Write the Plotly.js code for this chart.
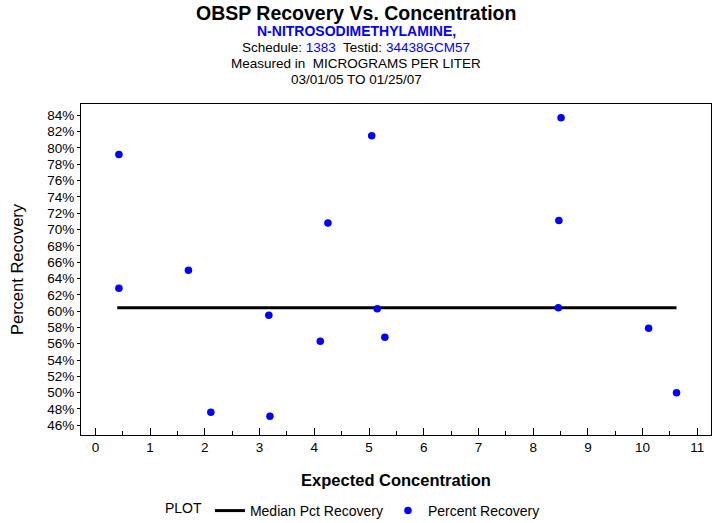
<!DOCTYPE html>
<html>
<head>
<meta charset="utf-8">
<script src="https://cdn.plot.ly/plotly-3.0.1.min.js"></script>
<style>html,body{margin:0;padding:0;background:#fff;}#chart{width:713px;height:523px;}</style>
</head>
<body>
<div id="chart"></div>
<script>
// Data
const expectedConc = [0.43, 0.43, 1.70, 2.11, 3.17, 3.19, 4.11, 4.25, 5.05, 5.15, 5.29, 8.51, 8.47, 8.46, 10.11, 10.62];
const pctRecovery  = [79.2, 62.8, 65.0, 47.6, 59.5, 47.1, 56.3, 70.8, 81.5, 60.3, 56.8, 83.7, 71.1, 60.4, 57.9, 50.0];
const medianX = [0.40, 10.62];
const medianY = [60.4, 60.4];
const yTickVals = [46,48,50,52,54,56,58,60,62,64,66,68,70,72,74,76,78,80,82,84];
const xTickVals = [0,1,2,3,4,5,6,7,8,9,10,11];

const FONT = 'Arial, "Liberation Sans", sans-serif';

const traces = [
  {
    x: medianX, y: medianY, mode: 'lines', name: 'Median Pct Recovery',
    line: {color: '#000000', width: 3}, hoverinfo: 'skip'
  },
  {
    x: expectedConc, y: pctRecovery, mode: 'markers', name: 'Percent Recovery',
    marker: {color: '#0000FF', size: 7.5, symbol: 'circle'}
  }
];

const layout = {
  width: 713, height: 523,
  margin: {l: 81, r: 2, t: 104, b: 88, pad: 0, autoexpand: false},
  paper_bgcolor: '#ffffff', plot_bgcolor: '#ffffff',
  font: {family: FONT, size: 13, color: '#000000'},
  showlegend: true,
  legend: {
    orientation: 'h', x: 0.13, y: -0.2779, xanchor: 'left', yanchor: 'bottom',
    title: {text: 'PLOT', side: 'left', font: {family: FONT, size: 14}},
    font: {family: FONT, size: 14}, itemwidth: 30, tracegroupgap: 0,
    bgcolor: 'rgba(0,0,0,0)'
  },
  xaxis: {
    range: [-0.263, 11.25], tickvals: xTickVals, ticktext: xTickVals.map(String),
    ticks: 'inside', ticklen: 7, tickwidth: 1, tickcolor: '#000',
    minor: {dtick: 0.5, tick0: 0, ticks: 'inside', ticklen: 4, tickwidth: 1, tickcolor: '#000', showgrid: false},
    showline: true, linecolor: '#000', linewidth: 1, mirror: true,
    showgrid: false, zeroline: false,
    tickfont: {family: FONT, size: 13.5},
    title: {text: '<b>Expected Concentration</b>', font: {family: FONT, size: 16.5}, standoff: 20}
  },
  yaxis: {
    range: [44.81, 85.39], tickvals: yTickVals, ticktext: yTickVals.map(v => v + '%'),
    ticks: 'outside', ticklen: 3, tickwidth: 1, tickcolor: '#000',
    showline: true, linecolor: '#000', linewidth: 1, mirror: true,
    showgrid: false, zeroline: false,
    tickfont: {family: FONT, size: 13.5},
    title: {text: 'Percent Recovery', font: {family: FONT, size: 16.5}, standoff: 19}
  },
  annotations: [
    {text: '<b>OBSP Recovery Vs. Concentration</b>', xref: 'paper', yref: 'paper', x: 0.437, y: 1.0, yshift: 91,
     xanchor: 'center', yanchor: 'middle', showarrow: false, font: {family: FONT, size: 19.5, color: '#000'}},
    {text: '<b>N-NITROSODIMETHYLAMINE,</b>', xref: 'paper', yref: 'paper', x: 0.437, y: 1.0, yshift: 73,
     xanchor: 'center', yanchor: 'middle', showarrow: false, font: {family: FONT, size: 14, color: '#0000FF'}},
    {text: 'Schedule: <span style="color:#0000FF">1383</span>  Testid: <span style="color:#0000FF">34438GCM57</span>',
     xref: 'paper', yref: 'paper', x: 0.437, y: 1.0, yshift: 57,
     xanchor: 'center', yanchor: 'middle', showarrow: false, font: {family: FONT, size: 13.5, color: '#000'}},
    {text: 'Measured in  MICROGRAMS PER LITER', xref: 'paper', yref: 'paper', x: 0.437, y: 1.0, yshift: 41,
     xanchor: 'center', yanchor: 'middle', showarrow: false, font: {family: FONT, size: 13.5, color: '#000'}},
    {text: '03/01/05 TO 01/25/07', xref: 'paper', yref: 'paper', x: 0.437, y: 1.0, yshift: 25,
     xanchor: 'center', yanchor: 'middle', showarrow: false, font: {family: FONT, size: 13.5, color: '#000'}}
  ]
};

Plotly.newPlot('chart', traces, layout, {displayModeBar: false, staticPlot: true});
</script>
</body>
</html>
